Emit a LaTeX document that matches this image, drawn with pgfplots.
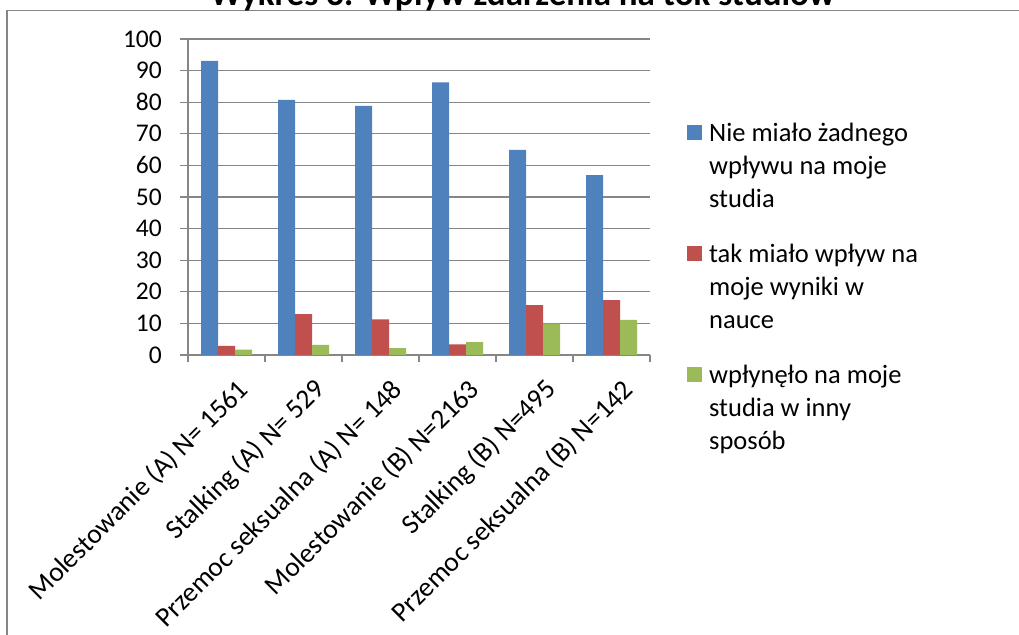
\documentclass[border=0pt]{standalone}
\usepackage{pgfplots}
\pgfplotsset{compat=1.18}
\usepackage{fontspec}
\setmainfont{Carlito}
\definecolor{sblue}{HTML}{4F81BD}
\definecolor{sred}{HTML}{C0504D}
\definecolor{sgreen}{HTML}{9BBB59}
\definecolor{gridgray}{HTML}{868686}
\begin{document}
\begin{tikzpicture}[x=1pt,y=1pt]
\useasboundingbox (0,0) rectangle (1019,634);
\clip (0,0) rectangle (1019,634);
\fill[white] (0,0) rectangle (1019,634);
\draw[gridgray, line width=1.5pt] (7,-10) -- (7,623.5) -- (1030,623.5);
\node[anchor=base west, inner sep=0pt, font=\fontsize{35}{40}\selectfont\bfseries] at (210,628) {Wykres 3: Wpływ zdarzenia na tok studiów};
\begin{axis}[
  at={(188pt,279pt)}, anchor=south west,
  scale only axis, width=462pt, height=316pt,
  xmin=0, xmax=6, ymin=0, ymax=100,
  ybar=0pt, bar width=17pt,
  axis x line*=bottom, axis y line*=left,
  axis line style={gridgray, line width=1.3pt},
  ymajorgrids, grid style={gridgray, line width=1.3pt},
  ytick={0,10,...,100},
  xtick={0.5,1.5,2.5,3.5,4.5,5.5},
  xticklabels={Molestowanie (A) N= 1561, Stalking (A) N= 529, Przemoc seksualna (A) N= 148, Molestowanie (B) N=2163, Stalking (B) N=495, Przemoc seksualna (B) N=142},
  minor xtick={0,1,...,6},
  major tick length=0pt,
  minor tick length=7pt,
  tick align=outside,
  tick style={gridgray, line width=1.3pt},
  extra y ticks={0,10,...,100},
  extra y tick labels={},
  extra y tick style={major tick length=8pt, grid=none},
  x tick label style={rotate=45, anchor=east, font=\fontsize{27.5}{32}\selectfont, inner sep=0pt, xshift=-9pt, yshift=-34pt},
  y tick label style={font=\fontsize{25.5}{30}\selectfont, inner sep=0pt, xshift=-26pt},
  /pgf/number format/assume math mode=true,
  legend style={draw=none, fill=none, at={(1.08,0.741)}, anchor=north west, font=\fontsize{26.5}{33}\selectfont, row sep=31pt, inner sep=0pt, cells={align=left, anchor=west}, legend cell align=left},
  legend image code/.code={\fill[#1] (0pt,25.5pt) rectangle (15pt,40.5pt);},
  legend style={/tikz/every odd column/.append style={column sep=5pt}},
]
\addplot[fill=sblue, draw=none] coordinates {(0.5,93.1) (1.5,80.7) (2.5,78.8) (3.5,86.3) (4.5,64.9) (5.5,56.9)};
\addplot[fill=sred, draw=none] coordinates {(0.5,2.9) (1.5,12.9) (2.5,11.3) (3.5,3.4) (4.5,15.8) (5.5,17.4)};
\addplot[fill=sgreen, draw=none] coordinates {(0.5,1.7) (1.5,3.2) (2.5,2.2) (3.5,4.1) (4.5,9.9) (5.5,11.1)};
\legend{{Nie miało żadnego\\wpływu na moje\\studia}, {tak miało wpływ na\\moje wyniki w\\nauce}, {wpłynęło na moje\\studia w inny\\sposób}}
\end{axis}
\end{tikzpicture}
\end{document}
